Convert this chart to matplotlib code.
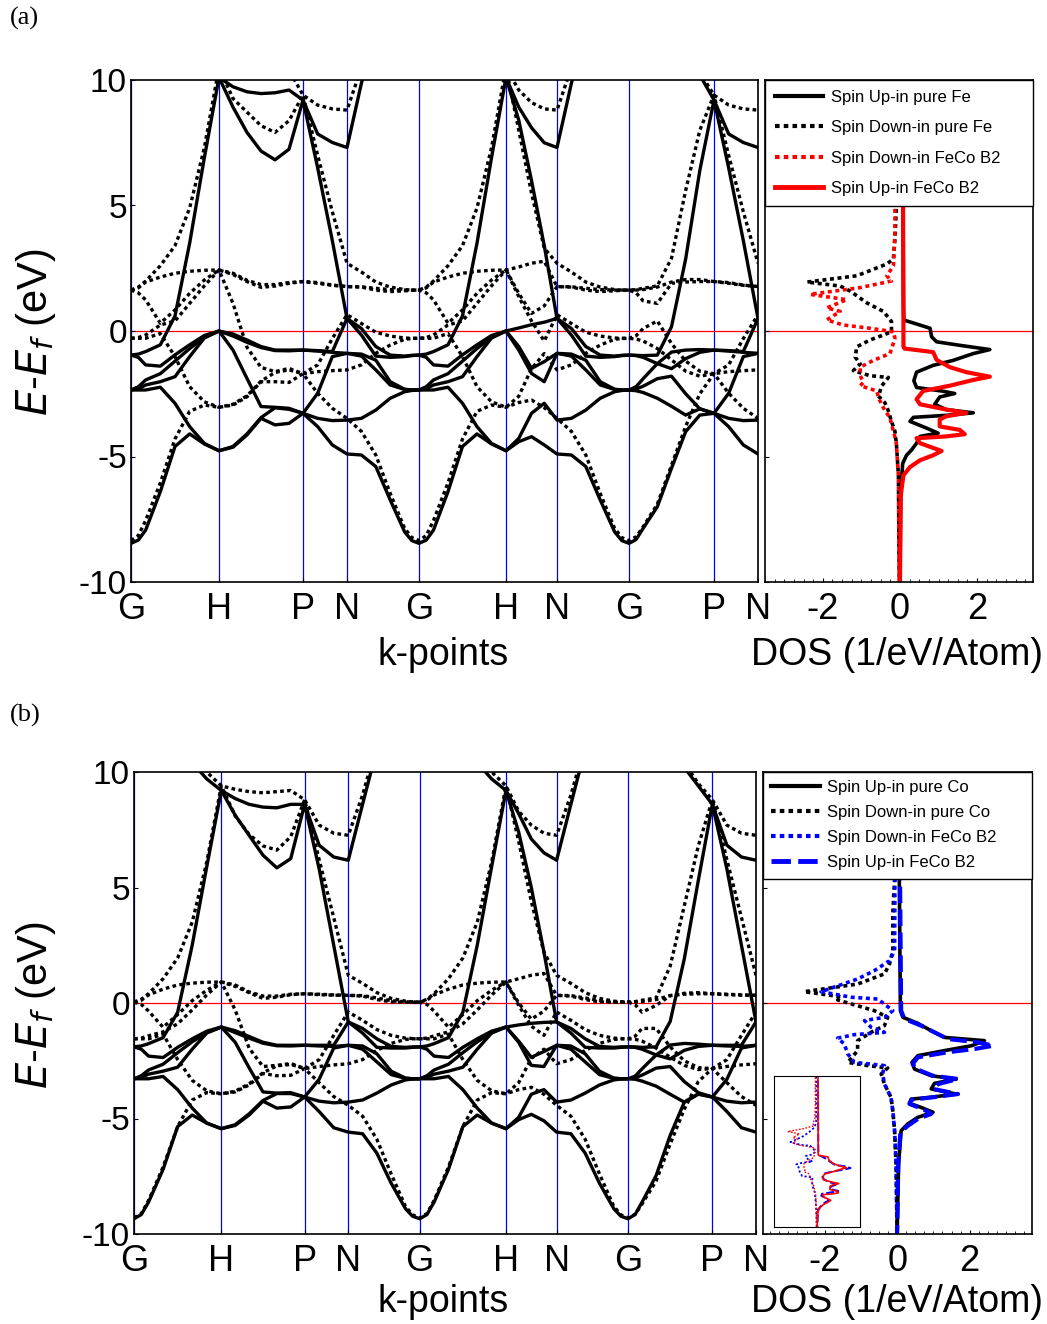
import numpy as np
import matplotlib
matplotlib.use('Agg')
import matplotlib.pyplot as plt
from matplotlib.ticker import MultipleLocator
from matplotlib.lines import Line2D

plt.rcParams['font.family'] = ['Liberation Sans Narrow', 'Liberation Sans', 'DejaVu Sans']
plt.rcParams['mathtext.fontset'] = 'custom'
plt.rcParams['mathtext.rm'] = 'Liberation Sans Narrow'
plt.rcParams['mathtext.it'] = 'Liberation Sans Narrow:italic'
plt.rcParams['axes.unicode_minus'] = False

# ---- k-path ----
k_labels = ['G', 'H', 'P', 'N', 'G', 'H', 'N', 'G', 'P', 'N']
k_ticks = [0, 88, 172, 216, 288, 375, 426, 498, 583, 627]
seg_names = ['GH', 'HP', 'PN', 'NG', 'GH', 'HN', 'NG', 'GP', 'PN']
# where along each segment the energies below were read (fraction of the segment)
seg_frac = {'GH': [0, 1 / 12, 1 / 6, 2 / 6, 3 / 6, 4 / 6, 5 / 6, 1],
            'HP': [0, 1 / 6, 2 / 6, 3 / 6, 4 / 6, 5 / 6, 1],
            'PN': [0, 1 / 3, 2 / 3, 1],
            'NG': [0, 0.2, 0.4, 0.6, 0.8, 0.9, 1],
            'HN': [0, 0.25, 0.5, 0.75, 1],
            'GP': [0, 1 / 12, 1 / 6, 2 / 6, 3 / 6, 4 / 6, 5 / 6, 1]}

# ---- (a) pure Fe, spin up (solid) ----
fe_up_GH = [[-8.46, -8.33, -7.93, -6.40, -4.60, -4.10, -4.50, -4.77],
            [-0.96, -1.05, -1.35, -2.02, -2.88, -3.81, -4.48, -4.77],
            [-2.35, -2.35, -2.35, -2.24, -1.82, -1.02, -0.25, 0.00],
            [-2.35, -2.22, -1.95, -1.40, -0.95, -0.55, -0.18, 0.00],
            [-2.35, -2.30, -2.15, -1.70, -1.20, -0.70, -0.28, 0.00],
            [-0.96, -0.92, -0.82, -0.55, 0.60, 3.50, 6.90, 10.10],
            [14.00, 13.85, 13.60, 13.00, 12.20, 11.40, 10.60, 10.10]]
fe_up_HP = [[-4.77, -4.63, -4.14, -3.48, -3.04, -3.08, -3.28],
            [-4.77, -4.60, -4.10, -3.45, -3.06, -3.12, -3.28],
            [0.00, -0.76, -1.89, -3.01, -3.74, -3.68, -3.28],
            [0.00, -0.12, -0.36, -0.62, -0.76, -0.76, -0.76],
            [0.00, -0.20, -0.45, -0.66, -0.78, -0.79, -0.76],
            [10.10, 8.92, 7.91, 7.17, 6.82, 7.24, 9.20],
            [10.10, 9.73, 9.53, 9.46, 9.49, 9.60, 9.20]]
fe_up_PN = [[-3.28, -3.81, -4.54, -4.90],
            [-3.28, -3.48, -3.57, -3.55],
            [-3.28, -2.48, -1.02, 0.50],
            [-0.76, -0.78, -0.82, -0.89],
            [-0.76, -0.80, -0.85, -0.89],
            [9.20, 6.50, 3.60, 0.50],
            [9.20, 7.85, 7.51, 7.31]]
fe_up_NG = [[-4.90, -4.94, -5.40, -6.73, -8.00, -8.35, -8.46],
            [-3.55, -3.48, -3.15, -2.68, -2.42, -2.37, -2.35],
            [0.50, -0.16, -1.16, -2.02, -2.32, -2.35, -2.35],
            [-0.89, -0.92, -1.00, -1.05, -1.00, -0.97, -0.96],
            [-0.89, -1.00, -1.55, -2.15, -2.33, -2.35, -2.35],
            [0.50, 0.10, -0.62, -0.96, -1.02, -0.98, -0.96],
            [7.31, 9.87, 12.00, 13.20, 13.80, 13.95, 14.00]]
fe_up_HN = [[-4.77, -4.41, -4.21, -4.54, -4.90],
            [-4.77, -4.28, -3.28, -2.02, -0.89],
            [0.00, -0.62, -1.69, -2.88, -3.55],
            [0.00, -0.76, -1.49, -1.22, -0.89],
            [0.00, 0.12, 0.25, 0.35, 0.50],
            [10.10, 8.40, 6.00, 3.40, 0.50],
            [10.10, 8.92, 8.10, 7.50, 7.31]]
fe_up_GP = [[-8.46, -8.31, -7.86, -7.00, -5.47, -4.01, -3.35, -3.28],
            [-2.35, -2.38, -2.45, -2.68, -3.00, -3.35, -3.10, -3.28],
            [-2.35, -2.22, -1.90, -1.30, 0.17, 2.87, 6.40, 9.20],
            [-2.35, -2.31, -2.20, -1.90, -1.50, -1.10, -0.85, -0.76],
            [-0.96, -0.97, -0.98, -0.96, -0.84, -0.76, -0.74, -0.76],
            [-0.96, -0.98, -1.05, -1.30, -1.80, -2.50, -3.10, -3.28],
            [14.00, 13.85, 13.50, 12.80, 12.00, 11.20, 10.20, 9.20]]

# ---- (a) pure Fe, spin down (dotted) ----
fe_dn_GH = [[-8.35, -8.15, -7.55, -6.05, -4.30, -3.20, -2.95, -3.04],
            [1.63, 1.52, 1.24, 0.31, -1.02, -2.22, -2.82, -3.04],
            [-0.29, -0.26, -0.16, 0.24, 0.84, 1.50, 2.03, 2.43],
            [-0.29, -0.29, -0.29, -0.10, 0.40, 1.10, 1.80, 2.43],
            [1.63, 1.75, 1.95, 2.15, 2.30, 2.38, 2.42, 2.43],
            [1.63, 1.72, 1.99, 2.60, 3.40, 4.90, 7.30, 10.50],
            [14.50, 14.30, 14.00, 13.40, 12.60, 11.80, 11.00, 10.50]]
fe_dn_HP = [[-3.04, -2.95, -2.62, -2.02, -1.62, -1.49, -1.70],
            [-3.04, -2.92, -2.58, -2.00, -1.65, -1.55, -1.70],
            [2.43, 1.10, -0.65, -1.45, -2.02, -2.05, -1.70],
            [2.43, 2.30, 1.97, 1.74, 1.79, 1.93, 1.97],
            [2.43, 2.25, 2.02, 1.85, 1.85, 1.90, 1.97],
            [10.50, 9.26, 8.72, 8.18, 7.91, 8.38, 9.40],
            [10.50, 10.80, 11.00, 11.00, 10.80, 10.40, 9.40]]
fe_dn_PN = [[-1.70, -2.48, -3.08, -3.48],
            [-1.70, -1.62, -1.58, -1.55],
            [-1.70, -1.35, -0.30, 0.65],
            [1.97, 1.93, 1.83, 1.77],
            [1.97, 1.90, 1.82, 1.77],
            [9.40, 7.00, 4.75, 2.70],
            [9.40, 9.00, 8.85, 8.80]]
fe_dn_NG = [[-3.48, -4.00, -4.94, -6.47, -7.86, -8.23, -8.35],
            [-1.55, -1.35, -0.89, -0.56, -0.33, -0.30, -0.29],
            [0.65, 0.30, -0.05, -0.20, -0.28, -0.29, -0.29],
            [1.77, 1.75, 1.63, 1.57, 1.60, 1.62, 1.63],
            [1.77, 1.76, 1.70, 1.65, 1.63, 1.63, 1.63],
            [2.70, 2.35, 1.95, 1.75, 1.65, 1.63, 1.63],
            [8.80, 10.50, 12.50, 13.50, 14.20, 14.40, 14.50]]
fe_dn_HN = [[-3.04, -2.85, -2.75, -3.05, -3.48],
            [-3.04, -2.60, -1.50, -0.40, 0.65],
            [2.43, 1.50, 0.40, -0.90, -1.55],
            [2.43, 1.37, 0.70, 1.00, 1.77],
            [2.43, 2.55, 2.70, 2.78, 2.70],
            [10.50, 8.00, 5.50, 3.30, 1.77],
            [10.50, 9.60, 9.10, 8.85, 8.80]]
fe_dn_GP = [[-8.35, -8.20, -7.80, -6.90, -5.35, -3.80, -2.50, -1.70],
            [-0.29, -0.32, -0.40, -0.70, -1.15, -1.60, -1.80, -1.70],
            [-0.29, -0.19, 0.10, 1.10, 2.90, 5.60, 8.00, 9.40],
            [1.63, 1.63, 1.65, 1.75, 1.95, 2.05, 2.05, 1.97],
            [1.63, 1.52, 1.20, 0.40, -0.50, -1.20, -1.60, -1.70],
            [1.63, 1.65, 1.70, 1.80, 1.90, 1.95, 1.97, 1.97],
            [14.50, 14.35, 14.00, 13.20, 12.30, 11.30, 10.30, 9.40]]

# ---- (b) pure Co, spin up (solid) ----
co_up_GH = [[-9.34, -9.16, -8.62, -7.20, -5.35, -4.85, -5.20, -5.44],
            [-1.90, -2.00, -2.30, -2.95, -3.75, -4.55, -5.20, -5.44],
            [-3.28, -3.28, -3.28, -3.18, -2.78, -2.00, -1.28, -1.04],
            [-3.28, -3.15, -2.90, -2.36, -1.92, -1.55, -1.22, -1.04],
            [-3.28, -3.22, -3.08, -2.65, -2.15, -1.68, -1.30, -1.04],
            [-1.90, -1.86, -1.76, -1.50, -0.40, 2.50, 5.90, 9.20],
            [13.00, 12.85, 12.60, 12.00, 11.20, 10.40, 9.70, 9.20]]
co_up_HP = [[-5.44, -5.30, -4.85, -4.25, -3.90, -3.88, -4.07],
            [-5.44, -5.27, -4.80, -4.22, -3.92, -3.92, -4.07],
            [-1.04, -1.70, -2.80, -3.85, -4.55, -4.50, -4.07],
            [-1.04, -1.20, -1.45, -1.70, -1.83, -1.83, -1.83],
            [-1.04, -1.28, -1.52, -1.74, -1.85, -1.86, -1.83],
            [9.20, 8.13, 7.26, 6.40, 5.85, 6.25, 8.60],
            [9.20, 8.85, 8.60, 8.48, 8.45, 8.60, 8.60]]
co_up_PN = [[-4.07, -4.70, -5.40, -5.59],
            [-4.07, -4.25, -4.32, -4.29],
            [-4.07, -3.30, -1.95, -0.82],
            [-1.83, -1.83, -1.83, -1.83],
            [-1.83, -1.86, -1.88, -1.83],
            [8.60, 5.80, 2.50, -0.82],
            [8.60, 6.83, 6.32, 6.18]]
co_up_NG = [[-5.59, -5.66, -6.50, -7.80, -8.90, -9.23, -9.34],
            [-4.29, -4.20, -3.90, -3.55, -3.33, -3.29, -3.28],
            [-0.82, -1.30, -2.20, -2.95, -3.25, -3.28, -3.28],
            [-1.83, -1.86, -1.92, -1.95, -1.92, -1.90, -1.90],
            [-1.83, -2.00, -2.55, -3.10, -3.26, -3.28, -3.28],
            [-0.82, -1.10, -1.55, -1.88, -1.95, -1.92, -1.90],
            [6.18, 8.60, 11.00, 12.20, 12.80, 12.95, 13.00]]
co_up_HN = [[-5.44, -5.05, -4.82, -5.10, -5.59],
            [-5.44, -4.95, -3.95, -2.75, -1.83],
            [-1.04, -1.65, -2.70, -3.75, -4.29],
            [-1.04, -1.70, -2.35, -2.10, -1.83],
            [-1.04, -0.95, -0.88, -0.84, -0.82],
            [9.20, 7.40, 5.00, 2.20, -0.82],
            [9.20, 8.20, 7.10, 6.50, 6.18]]
co_up_GP = [[-9.34, -9.16, -8.62, -7.47, -5.73, -4.29, -3.93, -4.07],
            [-3.28, -3.30, -3.38, -3.60, -3.95, -4.30, -3.88, -4.07],
            [-3.28, -3.17, -2.85, -2.25, -0.80, 1.90, 5.30, 8.60],
            [-3.28, -3.24, -3.12, -2.82, -2.42, -2.05, -1.88, -1.83],
            [-1.90, -1.90, -1.92, -1.90, -1.82, -1.75, -1.78, -1.83],
            [-1.90, -1.92, -2.00, -2.25, -2.75, -3.40, -3.95, -4.07],
            [13.00, 12.85, 12.50, 11.80, 11.00, 10.20, 9.40, 8.60]]

# ---- (b) pure Co, spin down (dotted) ----
co_dn_GH = [[-9.30, -9.12, -8.55, -7.10, -5.35, -4.20, -3.88, -3.93],
            [0.04, -0.06, -0.35, -1.25, -2.45, -3.35, -3.80, -3.93],
            [-1.55, -1.52, -1.42, -1.05, -0.50, 0.10, 0.55, 0.91],
            [-1.55, -1.55, -1.55, -1.35, -0.90, -0.30, 0.35, 0.91],
            [0.04, 0.16, 0.35, 0.60, 0.78, 0.86, 0.90, 0.91],
            [0.04, 0.12, 0.40, 1.05, 1.95, 3.50, 6.10, 9.40],
            [13.50, 13.30, 13.00, 12.40, 11.60, 10.80, 10.00, 9.40]]
co_dn_HP = [[-3.93, -3.85, -3.55, -3.05, -2.70, -2.62, -2.84],
            [-3.93, -3.82, -3.50, -3.02, -2.72, -2.66, -2.84],
            [0.91, -0.30, -1.95, -2.75, -3.15, -3.13, -2.84],
            [0.91, 0.78, 0.45, 0.20, 0.25, 0.38, 0.40],
            [0.91, 0.72, 0.48, 0.30, 0.30, 0.36, 0.40],
            [9.40, 8.10, 7.30, 6.80, 6.62, 7.20, 8.80],
            [9.40, 9.25, 9.15, 9.10, 9.15, 9.20, 8.80]]
co_dn_PN = [[-2.84, -3.45, -4.05, -4.43],
            [-2.84, -2.75, -2.68, -2.63],
            [-2.84, -2.45, -1.40, -0.39],
            [0.40, 0.38, 0.35, 0.33],
            [0.40, 0.36, 0.34, 0.33],
            [8.80, 6.20, 3.70, 1.20],
            [8.80, 7.70, 7.35, 7.26]]
co_dn_NG = [[-4.43, -4.90, -5.90, -7.40, -8.80, -9.17, -9.30],
            [-2.63, -2.45, -2.05, -1.75, -1.58, -1.55, -1.55],
            [-0.39, -0.75, -1.15, -1.40, -1.52, -1.54, -1.55],
            [0.33, 0.30, 0.15, 0.05, 0.03, 0.03, 0.04],
            [0.33, 0.32, 0.22, 0.10, 0.05, 0.04, 0.04],
            [1.20, 0.85, 0.45, 0.20, 0.08, 0.05, 0.04],
            [7.26, 9.00, 11.20, 12.50, 13.20, 13.40, 13.50]]
co_dn_HN = [[-3.93, -3.75, -3.65, -3.95, -4.43],
            [-3.93, -3.45, -2.40, -1.40, -0.39],
            [0.91, 0.00, -1.00, -2.00, -2.63],
            [0.91, -0.10, -0.70, -0.35, 0.33],
            [0.91, 1.05, 1.20, 1.28, 1.20],
            [9.40, 7.00, 4.40, 2.20, 0.33],
            [9.40, 8.30, 7.70, 7.35, 7.26]]
co_dn_GP = [[-9.30, -9.15, -8.70, -7.70, -6.10, -4.60, -3.40, -2.84],
            [-1.55, -1.57, -1.65, -1.95, -2.35, -2.70, -2.88, -2.84],
            [-1.55, -1.44, -1.10, -0.10, 1.60, 4.20, 6.80, 8.80],
            [0.04, 0.05, 0.06, 0.15, 0.32, 0.42, 0.45, 0.40],
            [0.04, -0.07, -0.40, -1.10, -1.90, -2.50, -2.80, -2.84],
            [0.04, 0.06, 0.12, 0.22, 0.32, 0.38, 0.40, 0.40],
            [13.50, 13.35, 13.00, 12.20, 11.30, 10.40, 9.50, 8.80]]

# ---- DOS (1/eV/Atom) ----
fe_up_dos_E = [10, 5.0, 1.0, 0.44, 0.38, 0.11, -0.23, -0.43, -0.57, -0.74, -0.9, -1.17, -1.37, -1.64,
               -1.98, -2.25, -2.39, -2.49, -2.63, -2.92, -3.13, -3.26, -3.36, -3.44, -3.6, -3.87,
               -4.07, -4.2, -4.47, -4.74, -4.95, -5.28, -6.43, -10]
fe_up_dos = [0.08, 0.08, 0.09, 0.10, 0.22, 0.78, 0.82, 0.95, 1.55, 2.33, 1.90, 1.38, 0.86, 0.43,
             0.36, 0.43, 1.08, 1.42, 1.03, 0.90, 1.20, 1.90, 1.20, 0.35, 0.26, 0.69,
             0.99, 0.52, 0.43, 0.30, 0.17, 0.07, 0.02, 0.0]
fe_dn_dos_E = [10, 5.03, 3.68, 2.87, 2.67, 2.2, 1.95, 1.79, 1.59, 1.12, 0.78, 0.38, -0.03, -0.16,
               -0.36, -0.63, -1.04, -1.31, -1.58, -1.78, -1.85, -2.18, -2.59, -2.86, -3.19, -3.6,
               -4.0, -4.54, -5.75, -10]
fe_dn_dos = [-0.09, -0.09, -0.13, -0.17, -0.34, -1.12, -2.41, -1.55, -1.29, -0.86, -0.43, -0.22, -0.22, -0.43,
             -0.78, -1.12, -1.16, -1.03, -1.21, -0.78, -0.30, -0.47, -0.56, -0.39, -0.30, -0.22,
             -0.13, -0.09, -0.04, -0.02]
feco_fe_up_dos_E = [10, 5.0, 1.0, -0.63, -0.7, -0.84, -1.15, -1.44, -1.64, -1.82, -1.95, -2.18, -2.39,
                    -2.72, -2.92, -3.13, -3.26, -3.4, -3.53, -3.8, -3.94, -4.11, -4.2, -4.27, -4.47,
                    -4.78, -4.95, -5.15, -5.42, -5.75, -6.56, -10]
feco_fe_up_dos = [0.08, 0.08, 0.09, 0.09, 0.12, 0.86, 0.95, 1.29, 1.72, 2.33, 1.90, 1.29, 0.60,
                  0.43, 0.52, 1.20, 1.72, 1.20, 1.03, 1.03, 1.55, 1.68, 1.20, 0.43, 0.52,
                  1.08, 0.86, 0.52, 0.26, 0.09, 0.02, 0.0]
feco_fe_dn_dos_E = [10, 5.03, 3.95, 2.6, 2.2, 1.99, 1.73, 1.46, 1.25, 0.92, 0.78, 0.44, 0.24, 0.11,
                    -0.03, -0.3, -0.9, -1.17, -1.44, -1.78, -2.05, -2.18, -2.39, -2.65, -3.06, -3.46,
                    -4.0, -4.4, -5.75, -10]
feco_fe_dn_dos = [-0.13, -0.13, -0.13, -0.17, -0.34, -0.22, -1.03, -2.33, -1.38, -1.90, -1.55, -1.90, -1.47, -0.78,
                  -0.17, -0.13, -0.26, -0.69, -1.03, -1.03, -0.95, -1.03, -0.60, -0.56, -0.43, -0.26,
                  -0.17, -0.10, -0.04, -0.02]

co_up_dos_E = [10, 5.37, -0.33, -0.62, -0.88, -1.2, -1.49, -1.63, -1.85, -2.06, -2.28, -2.57, -2.86,
               -3.15, -3.29, -3.48, -3.72, -3.94, -4.08, -4.16, -4.34, -4.52, -4.73, -4.95, -5.24,
               -5.53, -6.97, -10]
co_up_dos = [0.06, 0.06, 0.09, 0.16, 0.57, 0.94, 1.31, 2.41, 2.05, 1.31, 0.57, 0.41, 0.48,
             0.94, 1.63, 1.03, 0.94, 1.63, 0.94, 0.39, 0.34, 0.66, 0.99, 0.57, 0.29,
             0.11, 0.04, 0.0]
feco_co_up_dos_E = [10, 5.37, -0.33, -0.69, -0.98, -1.27, -1.56, -1.70, -1.85, -1.99, -2.13, -2.35, -2.64,
                    -2.86, -3.15, -3.29, -3.51, -3.72, -3.94, -4.08, -4.19, -4.37, -4.59, -4.80, -5.02,
                    -5.31, -5.60, -6.97, -10]
feco_co_up_dos = [0.08, 0.08, 0.11, 0.20, 0.66, 1.03, 1.40, 2.23, 2.65, 2.14, 1.40, 0.57, 0.43,
                  0.53, 0.99, 1.68, 1.13, 0.99, 1.68, 0.99, 0.39, 0.34, 0.71, 0.94, 0.57,
                  0.30, 0.09, 0.03, 0.0]
co_dn_dos_E = [10, 5.37, 3.85, 2.27, 1.69, 1.26, 0.82, 0.49, 0.27, 0.13, -0.33, -0.62, -0.98, -1.27,
               -1.63, -2.06, -2.57, -2.71, -2.81, -3.07, -3.51, -4.08, -4.66, -5.53, -6.97, -10]
co_dn_dos = [-0.07, -0.07, -0.12, -0.12, -0.21, -0.35, -1.09, -2.56, -1.55, -1.64, -0.63, -0.26, -0.35, -0.72,
             -1.09, -1.09, -1.36, -0.81, -0.26, -0.44, -0.35, -0.17, -0.12, -0.07, -0.03, 0.0]
feco_co_dn_dos_E = [10, 5.37, 2.27, 1.83, 1.40, 1.04, 0.49, 0.25, 0.17, -0.33, -0.62, -0.76, -1.05, -1.27,
                    -1.37, -1.52, -1.77, -2.21, -2.57, -2.71, -3.07, -3.51, -4.08, -4.66, -5.53, -6.97, -10]
feco_co_dn_dos = [-0.06, -0.06, -0.07, -0.21, -0.63, -1.09, -2.10, -1.27, -0.53, -0.12, -0.35, -0.90, -0.72, -0.35,
                  -1.18, -1.64, -1.46, -1.36, -1.18, -0.35, -0.40, -0.35, -0.17, -0.12, -0.07, -0.03, 0.0]

W, H = 1047, 1324
BLUE = '#0000ff'
DOT = (0, (1.1, 1.0))


def build_bands(segs):
    ks, es = [], []
    for i, name in enumerate(seg_names):
        vals = np.sort(np.array(segs[name], float), axis=0)
        k0, k1 = k_ticks[i], k_ticks[i + 1]
        k = k0 + (k1 - k0) * np.array(seg_frac[name])
        if i > 0:
            k, vals = k[1:], vals[:, 1:]
        ks.append(k)
        es.append(vals)
    return np.concatenate(ks), np.concatenate(es, axis=1)


def px_axes(fig, left, top, right, bottom):
    return fig.add_axes([left / W, 1 - bottom / H, (right - left) / W, (bottom - top) / H])


def style_ticks(ax):
    ax.tick_params(direction='in', length=3, width=0.8, pad=7)
    ax.tick_params(axis='y', pad=3)
    for lab in ax.get_xticklabels():
        lab.set_fontsize(26)
    for lab in ax.get_yticklabels():
        lab.set_fontfamily(['Liberation Sans'])
        lab.set_fontsize(24)
    for sp in ax.spines.values():
        sp.set_linewidth(1.2)


def band_panel(ax, up, dn):
    for kx in k_ticks:
        ax.axvline(kx, color=BLUE, lw=0.9, zorder=1)
    ax.axhline(0, color='red', lw=0.9, zorder=1.5)
    k, e_up = build_bands(up)
    _, e_dn = build_bands(dn)
    for row in e_dn:
        ax.plot(k, row, color='black', lw=2.4, ls=DOT, zorder=2)
    for row in e_up:
        ax.plot(k, row, color='black', lw=2.4, zorder=3)
    ax.set_xlim(0, k_ticks[-1])
    ax.set_ylim(-10, 10)
    ax.set_xticks(k_ticks)
    ax.set_xticklabels(k_labels)
    ax.set_yticks([-10, -5, 0, 5, 10])
    style_ticks(ax)


def dos_panel(ax, xlim):
    ax.axhline(0, color='red', lw=0.9, zorder=1)
    ax.set_xlim(*xlim)
    ax.set_ylim(-10, 10)
    ax.set_xticks([-2, 0, 2])
    ax.xaxis.set_minor_locator(MultipleLocator(0.25))
    ax.set_yticks([-10, -5, 0, 5, 10])
    ax.set_yticklabels([])
    style_ticks(ax)
    ax.tick_params(which='minor', direction='in', length=2, width=0.6)


def add_legend(ax, handles, labels, spacing, pad):
    leg = ax.legend(handles, labels, loc='upper left', bbox_to_anchor=(0, 0.5, 1, 0.5),
                    mode='expand', borderaxespad=0, fontsize=12, handlelength=2.9,
                    labelspacing=spacing, borderpad=pad, fancybox=False, framealpha=1,
                    edgecolor='black', handletextpad=0.45)
    leg.get_frame().set_linewidth(1.0)


fig = plt.figure(figsize=(W / 100, H / 100), dpi=100)

fe_up = dict(GH=fe_up_GH, HP=fe_up_HP, PN=fe_up_PN, NG=fe_up_NG, HN=fe_up_HN, GP=fe_up_GP)
fe_dn = dict(GH=fe_dn_GH, HP=fe_dn_HP, PN=fe_dn_PN, NG=fe_dn_NG, HN=fe_dn_HN, GP=fe_dn_GP)
co_up = dict(GH=co_up_GH, HP=co_up_HP, PN=co_up_PN, NG=co_up_NG, HN=co_up_HN, GP=co_up_GP)
co_dn = dict(GH=co_dn_GH, HP=co_dn_HP, PN=co_dn_PN, NG=co_dn_NG, HN=co_dn_HN, GP=co_dn_GP)

# (a) band structure of pure Fe
ax_a = px_axes(fig, 131, 80, 758, 582)
band_panel(ax_a, fe_up, fe_dn)

# (a) DOS
ax_ad = px_axes(fig, 765, 80, 1033, 582)
dos_panel(ax_ad, (-3.5, 3.45))
ax_ad.plot(fe_dn_dos, fe_dn_dos_E, color='black', lw=2.6, ls=DOT)
ax_ad.plot(feco_fe_dn_dos, feco_fe_dn_dos_E, color='red', lw=2.6, ls=DOT)
ax_ad.plot(fe_up_dos, fe_up_dos_E, color='black', lw=2.6)
ax_ad.plot(feco_fe_up_dos, feco_fe_up_dos_E, color='red', lw=3.0)
add_legend(ax_ad,
           [Line2D([], [], color='black', lw=3),
            Line2D([], [], color='black', lw=3, ls=DOT),
            Line2D([], [], color='red', lw=3, ls=DOT),
            Line2D([], [], color='red', lw=3.5)],
           ['Spin Up-in pure Fe', 'Spin Down-in pure Fe',
            'Spin Down-in FeCo B2', 'Spin Up-in FeCo B2'], 0.92, 0.6)

# (b) band structure of pure Co
ax_b = px_axes(fig, 134, 772, 756, 1234)
band_panel(ax_b, co_up, co_dn)

# (b) DOS
ax_bd = px_axes(fig, 763, 772, 1032, 1234)
dos_panel(ax_bd, (-3.7, 3.72))
ax_bd.plot(co_dn_dos, co_dn_dos_E, color='black', lw=2.6, ls=DOT)
ax_bd.plot(feco_co_dn_dos, feco_co_dn_dos_E, color=BLUE, lw=2.6, ls=DOT)
ax_bd.plot(co_up_dos, co_up_dos_E, color='black', lw=2.6)
ax_bd.plot(feco_co_up_dos, feco_co_up_dos_E, color=BLUE, lw=3.0, ls=(0, (4, 1.5)))
add_legend(ax_bd,
           [Line2D([], [], color='black', lw=3),
            Line2D([], [], color='black', lw=3, ls=DOT),
            Line2D([], [], color=BLUE, lw=3, ls=DOT),
            Line2D([], [], color=BLUE, lw=3.5, ls=(0, (4, 1.5)))],
           ['Spin Up-in pure Co', 'Spin Down-in pure Co',
            'Spin Down-in FeCo B2', 'Spin Up-in FeCo B2'], 0.6, 0.5)

# inset: Fe and Co partial DOS in FeCo B2
ax_in = px_axes(fig, 774, 1076, 860, 1227)
ax_in.plot(feco_co_dn_dos, feco_co_dn_dos_E, color=BLUE, lw=1.3, ls=(0, (1.2, 1.2)))
ax_in.plot(feco_co_up_dos, feco_co_up_dos_E, color=BLUE, lw=1.4, ls=(0, (4, 1.5)))
ax_in.plot(feco_fe_dn_dos, feco_fe_dn_dos_E, color='red', lw=1.0, ls=(0, (1.2, 1.2)))
ax_in.plot(feco_fe_up_dos, feco_fe_up_dos_E, color='red', lw=1.2)
ax_in.set_xlim(-3.4, 3.4)
ax_in.set_ylim(-7.2, 6.5)
ax_in.set_xticks([])
ax_in.set_yticks([])

# labels
for y_lab, y_k, tag_y, tag in [(332, 655, 18, '(a)'), (1005, 1302, 715, '(b)')]:
    fig.text(36 / W, 1 - y_lab / H, r'$E$-$E_f$ (eV)', rotation=90, fontsize=30,
             ha='center', va='center')
    fig.text(443 / W, 1 - y_k / H, 'k-points', fontsize=27, ha='center', va='center')
    fig.text(897 / W, 1 - y_k / H, 'DOS (1/eV/Atom)', fontsize=27, ha='center', va='center')
    fig.text(10 / W, 1 - tag_y / H, tag, fontsize=19, family='Liberation Serif',
             ha='left', va='center')

fig.savefig('out.png', dpi=100)
